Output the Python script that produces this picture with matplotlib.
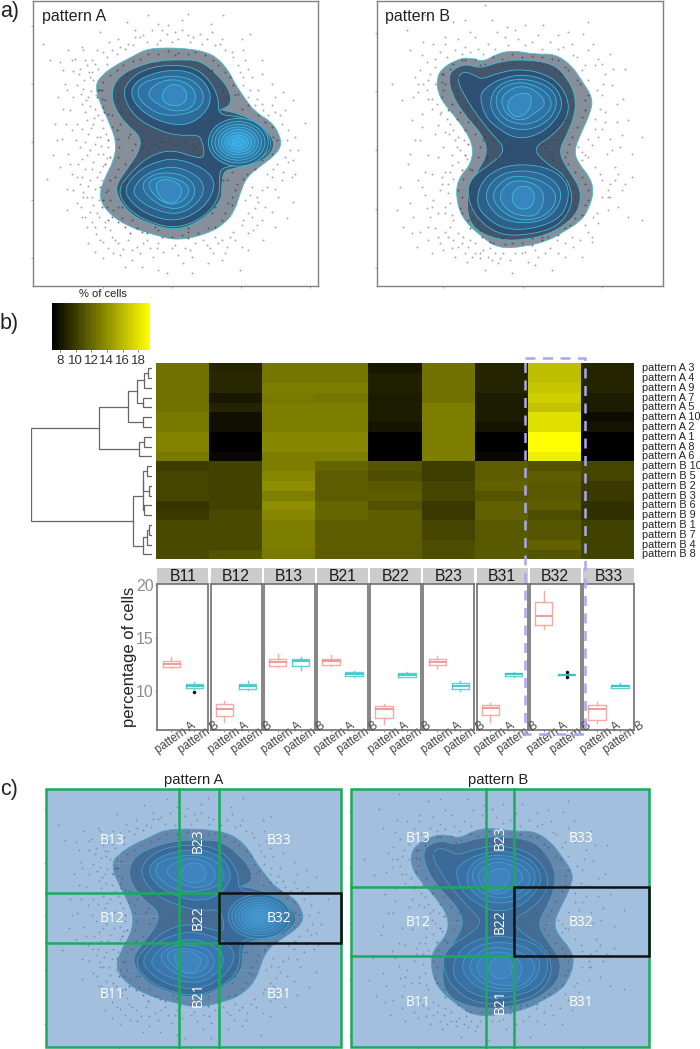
import matplotlib
matplotlib.use('Agg')
import matplotlib.pyplot as plt
import numpy as np
from matplotlib.colors import LinearSegmentedColormap, Normalize
from matplotlib.cm import ScalarMappable
from matplotlib.patches import PathPatch, Ellipse, Rectangle
from matplotlib.path import Path
from matplotlib.transforms import ScaledTranslation

plt.rcParams['font.family'] = ['Liberation Sans', 'DejaVu Sans']

W, H = 700, 1049

# ---- density outlines, outer level first ----
a_outlines = [
    [(60,135),(80,105),(120,75),(170,50),(215,25),(280,22),(340,25),(395,35),(430,55),(460,90),(480,130),(510,175),(540,215),(590,245),(612,280),(620,315),(600,345),(560,375),(515,410),(495,460),(480,510),(450,550),(400,580),(310,602),(240,585),(160,560),(100,520),(70,470),(90,410),(115,365),(125,310),(105,250),(75,190)],
    [(110,150),(130,110),(180,80),(250,60),(320,58),(375,60),(425,100),(465,150),(470,195),(425,212),(460,210),(540,240),(585,280),(600,315),(580,350),(530,375),(470,385),(445,395),(440,440),(440,480),(390,535),(310,572),(230,555),(160,520),(116,450),(145,400),(190,340),(200,290),(150,250),(115,195)],
    [(142,165),(160,120),(210,85),(290,72),(360,82),(405,120),(432,175),(428,225),(500,228),(570,265),(592,310),(575,345),(520,372),(445,380),(432,400),(435,470),(390,530),(310,565),(230,550),(160,510),(125,450),(170,395),(220,348),(290,327),(362,353),(390,352),(382,300),(368,283),(310,287),(250,270),(180,232)],
]
a_upper = [
    [(165,165),(180,125),(230,100),(290,88),(350,95),(395,130),(410,175),(390,220),(340,255),(270,250),(200,215)],
    [(185,165),(195,130),(250,112),(300,105),(360,120),(390,165),(375,205),(320,225),(260,225),(215,200)],
    [(212,160),(250,125),(300,115),(350,135),(365,170),(350,205),(300,215),(250,195)],
    [(258,165),(275,138),(305,130),(330,145),(338,170),(325,192),(295,198),(268,188)],
]
a_lower = [
    [(145,445),(195,385),(260,360),(300,355),(370,375),(415,410),(418,450),(385,505),(310,545),(230,530),(170,490)],
    [(170,450),(210,400),(290,375),(360,400),(392,440),(370,490),(310,525),(240,510),(190,480)],
    [(195,440),(225,405),(280,395),(340,410),(365,450),(345,490),(300,510),(240,490)],
    [(215,430),(245,410),(290,410),(335,430),(345,455),(320,487),(280,495),(240,470)],
    [(240,430),(265,415),(305,425),(325,450),(305,488),(275,490),(250,465)],
]
a_peak_x, a_peak_y = 490, 306
a_peak_rx = [90, 80, 70, 60, 50, 40, 30, 18]
a_peak_ry = [72, 62, 54, 46, 38, 30, 22, 14]

b_outlines = [
    [(35,115),(50,85),(90,60),(130,50),(175,65),(215,40),(265,30),(330,42),(390,40),(440,75),(470,120),(505,175),(495,220),(470,275),(447,330),(460,370),(495,410),(507,455),(490,510),(465,545),(415,575),(375,600),(300,620),(220,625),(170,590),(120,545),(95,490),(95,420),(140,370),(145,310),(100,240),(60,195),(38,155)],
    [(70,110),(85,85),(125,70),(165,85),(235,60),(310,58),(385,70),(425,110),(452,165),(450,225),(425,285),(400,335),(430,390),(465,440),(467,490),(445,535),(380,580),(300,600),(220,600),(150,570),(125,520),(130,440),(160,390),(190,335),(170,280),(115,220),(80,160)],
    [(95,115),(115,92),(150,105),(170,118),(225,95),(300,85),(385,110),(430,170),(430,230),(385,285),(320,325),(370,375),(415,400),(440,450),(440,500),(400,560),(310,585),(220,585),(150,530),(125,460),(140,410),(200,370),(245,328),(200,280),(160,230),(120,170)],
]
b_upper = [
    [(163,165),(185,140),(225,115),(300,100),(380,125),(415,180),(400,230),(350,280),(280,298),(225,270),(180,230)],
    [(193,180),(220,130),(290,112),(370,135),(400,180),(380,235),(320,270),(250,265),(205,225)],
    [(210,175),(230,140),(290,122),(360,148),(385,190),(360,230),(310,255),(250,245),(220,215)],
    [(225,180),(250,148),(295,135),(340,155),(365,190),(335,215),(290,245),(245,225)],
    [(245,190),(265,165),(310,155),(322,180),(310,215),(280,233),(255,220)],
]
b_lower = [
    [(155,490),(165,430),(215,385),(290,370),(380,385),(430,430),(430,490),(400,540),(310,570),(230,565),(175,525)],
    [(175,465),(215,405),(290,388),(370,405),(412,450),(400,505),(350,545),(270,550),(210,525)],
    [(195,470),(235,415),(290,405),(360,425),(400,465),(375,520),(310,545),(240,525)],
    [(218,470),(250,425),(300,420),(345,440),(360,475),(340,525),(300,530),(250,515)],
    [(258,470),(275,440),(310,437),(330,460),(325,495),(300,510),(270,500)],
]

# ---- single cells ----
a_points = [(220,-75),(340,-78),(443,-77),(155,-55),(407,-48),(75,-25),(102,5),(230,-30),(275,-20),(355,-10),(320,-30),(65,30),(-75,58),(-45,65),(-5,92),(50,95),(5,135),(40,170),(-15,210),(5,250),(75,290),(-20,340),(-10,400),(-85,415),(25,470),(-25,510),(20,530),(60,560),(85,655),(135,645),(205,610),(275,700),(325,670),(415,640),(495,690),(465,590),(535,570),(635,535),(655,485),(610,470),(545,470),(575,440),(645,330),(660,290),(690,248),(655,178),(625,155),(545,175),(520,85),(525,-20),(505,30),(435,10),(395,-5),
(30,60),(15,85),(45,110),(25,145),(60,205),(30,215),(55,250),(80,240),(40,280),(60,310),(85,340),(55,365),(30,385),(75,395),(45,420),(15,430),(60,445),(35,470),(55,495),(30,530),(72,530),(50,545),(90,560),(110,590),(75,600),(130,610),(160,600),(185,620),(225,625),(250,610),(290,625),(310,645),(360,610),(345,630),(395,615),(440,600),(420,590),(475,575),(500,555),(520,520),(540,505),(510,480),(560,450),(530,440),(590,410),(625,395),(605,370),(640,365),(650,410),(580,350),(635,300),(620,250),(600,215),(580,225),(560,190),(525,150),(505,110),(490,75),(475,50),(450,30),(420,15),(380,10),(345,5),(310,-5),(290,5),(255,0),(215,5),(195,-10),(175,15),(150,25),(125,40),(95,50),(60,70),(-30,130),(-50,170),(-60,250),(-40,295),(-65,345),(0,55),(25,30),(15,320),(35,345),(10,370),(-5,450),(5,490),(40,610),(100,625),(170,660),(235,650),(375,580),(600,330),(670,330),(570,280),(590,515),(560,540),(500,620),(440,660),(-95,10),(560,60),(500,-5),(130,-5),(180,-30),(280,-45),(-20,30),(-35,90),(-5,170),
(12,102),(28,118),(41,95),(55,120),(18,160),(33,178),(48,152),(62,165),(22,192),(44,198),(70,225),(35,240),(58,232),(84,262),(20,265),(48,262),(66,290),(92,280),(30,305),(78,318),(100,320),(44,330),(68,342),(95,352),(22,355),(50,385),(85,378),(65,410),(38,438),(80,420),(25,455),(52,470),(72,480),(18,500),(45,515),(65,520),(90,545),(35,560),(62,582),(105,570),(85,605),(120,600),(145,628),(115,640),(170,630),(195,640),(215,600),(245,625),(265,635),(300,615),(330,625),(350,650),(385,600),(405,625),(430,610),(455,620),(480,600),(520,580),(545,555),(505,540),(530,530),(570,500),(550,485),(525,465),(600,445),(620,420),(575,400),(595,385),(630,350),(655,360),(640,270),(615,225),(590,195),(565,210),(540,195),(520,170),(550,150),(505,135),(495,95),(530,110),(470,35),(510,60),(440,-5),(410,-25),(375,-20),(340,-15),(300,-25),(260,-30),(245,10),(205,-15),(160,10),(135,20),(110,28),(85,35),(50,60),(35,75),(70,85),(95,70),(-25,150),(-35,205),(-10,270),(-28,250),(2,300),(-15,370),(5,410),(20,410),(-25,445),(-45,380),(-55,300),(60,635),(150,680),(200,680),(250,690),(350,700),(400,670),(450,640),(520,630),(565,600),(600,560),(660,400),(630,210),(590,130),(560,100),(600,170),(320,-60),(250,-50),(180,-10),(20,20),(-10,60)]
a_inner_points = [(70,150),(85,200),(100,300),(105,350),(90,370),(75,440),(85,480),(110,530),(130,545),(165,580),(200,575),(290,590),(340,595),(400,565),(440,540),(470,495),(480,450),(505,415),(560,360),(595,290),(570,245),(500,205),(490,160),(465,110),(430,75),(390,45),(340,40),(280,32),(220,40),(175,62),(125,90),(85,125),(80,175),(110,225),(125,270),(160,290),(170,330),(150,370),(120,410),(100,450),(95,500),(200,300),(240,310),(280,305),(330,305),(360,320),(410,240),(440,210),(445,150),(400,90),(420,420),(455,420),(410,520),(340,575),(250,570),(140,500),(140,215),(130,160),(155,100),(230,72),(300,45),
(65,170),(80,150),(90,180),(100,220),(88,215),(110,260),(128,295),(132,320),(128,350),(130,385),(105,420),(92,455),(82,500),(105,480),(115,510),(100,540),(140,535),(150,560),(185,565),(215,580),(260,592),(320,585),(370,580),(420,560),(450,520),(460,490),(470,470),(485,430),(515,400),(540,385),(590,340),(605,300),(590,260),(550,225),(520,195),(480,165),(475,135),(450,95),(415,60),(360,35),(310,38),(250,40),(195,55),(145,75),(105,105),(75,150),
(130,180),(135,250),(165,280),(180,310),(205,320),(260,305),(310,295),(350,310),(370,340),(300,315),(250,320),(215,330),(170,375),(140,430),(130,500),(170,540),(240,562),(340,565),(420,500),(445,420),(470,395),(440,240),(455,170),(410,90)]

b_points = [(0,-75),(180,-105),(120,-60),(-55,-30),(60,-10),(-45,30),(-10,45),(135,-25),(85,-55),(200,-60),(245,-40),(300,-45),(355,-45),(430,-25),(475,-20),(505,10),(555,40),(520,55),(565,85),(540,100),(510,75),(560,135),(530,165),(480,75),(455,50),(415,20),(375,5),(320,5),(280,-5),(240,-10),(190,10),(160,25),(120,20),(90,30),(45,35),(5,65),(-15,90),(-30,110),(-5,130),(-20,155),(10,175),(20,205),(45,220),(75,250),(60,275),(90,300),(105,330),(80,345),(-50,370),(10,345),(40,350),(-20,420),(-45,490),(0,465),(50,410),(75,395),(45,450),(25,480),(60,500),(80,525),(15,530),(-35,530),(-40,580),(10,560),(40,590),(60,575),(85,600),(110,610),(130,620),(150,640),(100,580),(-25,620),(20,640),(55,630),(90,650),(125,665),(165,655),(210,640),(255,660),(290,640),(340,650),(375,625),(420,610),(465,600),(490,575),(520,550),(515,520),(550,510),(580,500),(610,530),(650,540),(590,450),(600,430),(555,430),(530,420),(470,360),(490,350),(470,335),(500,315),(520,290),(555,295),(590,285),(540,245),(510,235),(525,205),(575,190),(595,175),(620,340),(650,290),(580,400),(570,380),(545,340),(260,700),(220,670),(180,690),(310,665),(420,650),(380,690),(470,650),(100,-5),(25,10),(-5,5),(-70,180),(-100,130),(-40,240),(-30,300),(-75,440),(-85,510),(-65,560),(400,-15),(600,85),(490,-55),(-10,220),(30,280),(55,320),(20,400),(70,460),(75,560),(135,600),(190,650),(500,590),(555,470),(575,245),
(15,100),(30,130),(5,150),(22,175),(35,190),(48,215),(65,235),(40,255),(72,280),(85,270),(100,290),(118,300),(95,320),(125,355),(100,365),(80,375),(60,395),(85,415),(70,430),(50,430),(75,490),(60,520),(85,540),(40,520),(20,500),(30,565),(70,590),(100,620),(115,590),(150,610),(140,650),(175,630),(200,660),(235,640),(270,640),(300,635),(330,630),(360,640),(395,600),(440,590),(480,555),(505,530),(530,470),(550,450),(525,400),(510,380),(480,345),(460,320),(490,295),(510,265),(480,245),(530,265),(515,150),(535,130),(490,120),(470,90),(445,45),(400,25),(350,25),(300,15),(250,15),(210,25),(175,40),(135,35),(110,40),(65,50),(30,80),(10,120),(-20,130),(-35,170),(-10,260),(-15,300),(-45,340),(0,395),(-10,440),(5,505),(-15,575),(10,600),(45,610),(80,625),(120,640),(165,640),(195,625),(225,655),(330,675),(400,640),(445,620),(500,605),(550,470),(570,420),(620,410),(560,330),(585,320),(610,240),(540,215),(530,70),(490,30),(440,10),(340,-15),(270,-30),(215,-25),(150,-10),(60,10),(30,55)]
b_inner_points = [(60,130),(50,170),(70,210),(95,235),(120,270),(130,310),(120,345),(110,390),(100,450),(105,505),(130,540),(165,570),(195,605),(260,610),(320,615),(370,590),(420,565),(450,535),(480,495),(490,450),(470,410),(430,370),(425,335),(440,290),(470,230),(480,180),(455,120),(420,80),(380,55),(320,48),(260,42),(205,50),(165,75),(120,60),(85,70),(55,100),(95,150),(125,190),(150,240),(175,300),(185,350),(205,320),(230,340),(290,325),(350,310),(370,340),(385,360),(400,300),(440,200),(445,440),(450,500),(140,470),(140,530),(350,590),(235,75),(310,70),(390,85),(100,110),(135,135),(410,240),(385,270),
(50,125),(55,150),(80,190),(105,215),(130,245),(150,280),(165,320),(160,350),(135,385),(115,415),(112,470),(110,520),(135,565),(170,590),(205,610),(240,612),(290,610),(350,600),(400,585),(435,555),(470,525),(490,480),(480,430),(450,395),(420,350),(432,310),(455,260),(480,210),(490,165),(465,130),(430,90),(400,60),(350,50),(290,50),(230,55),(180,70),(150,55),(110,60),(75,85),(50,100),
(85,130),(100,170),(125,210),(150,250),(180,290),(205,300),(215,350),(250,320),(280,340),(330,330),(360,320),(380,345),(390,300),(420,240),(435,170),(405,100),(350,75),(260,70),(140,390),(145,450),(135,500),(160,550),(230,595),(320,595),(420,520),(450,470),(420,410)]

# ---- heatmap, % of cells, rows top to bottom ----
row_names = ['pattern A 3','pattern A 4','pattern A 9','pattern A 7','pattern A 5','pattern A 10','pattern A 2','pattern A 1','pattern A 8','pattern A 6',
             'pattern B 10','pattern B 5','pattern B 2','pattern B 3','pattern B 6','pattern B 9','pattern B 1','pattern B 7','pattern B 4','pattern B 8']
bins = ['B11','B12','B13','B21','B22','B23','B31','B32','B33']
b11 = [12.5,12.5,12.5,12.5,12.5,12.9,12.9,13.3,13.3,12.9,10.1,10.4,10.4,10.4,9.6,9.9,10.6,10.6,10.6,10.6]
b12 = [8.8,9.0,9.0,8.3,8.9,7.9,7.9,7.0,7.0,7.5,10.2,10.2,10.2,10.2,10.2,10.7,10.7,10.7,10.7,11.2]
b13 = [12.7,12.7,13.1,12.9,13.1,13.1,13.1,13.6,13.6,13.2,13.1,13.5,13.9,13.2,13.9,13.6,13.2,13.2,13.2,12.9]
b21 = [12.7,12.7,13.1,12.7,13.1,13.1,13.1,13.6,13.6,13.2,11.9,11.6,11.6,11.6,12.0,12.0,11.6,11.6,11.6,11.6]
b22 = [8.3,8.6,8.6,8.5,8.5,8.5,8.0,7.0,7.0,7.0,11.25,10.9,11.4,11.6,11.1,11.5,11.5,11.5,11.5,11.5]
b23 = [12.6,12.6,12.6,12.6,13.1,13.1,13.1,13.1,13.1,13.1,10.1,10.1,10.4,10.4,9.75,9.75,10.4,10.4,10.9,10.9]
b31 = [8.9,8.9,8.9,8.5,8.5,8.5,8.0,7.0,7.0,7.5,11.5,11.5,11.75,11.25,11.75,11.75,11.4,11.4,11.4,11.4]
b32 = [16.25,16.25,16.75,17.0,16.5,17.75,17.75,19.5,19.5,18.6,11.1,11.6,11.4,11.4,11.5,10.75,11.25,11.25,11.75,11.25]
b33 = [8.9,8.9,8.9,8.5,8.5,7.75,8.1,7.0,7.0,7.0,10.4,10.4,9.75,9.75,9.5,9.5,10.25,10.25,10.25,10.25]

# dendrogram merges: child, child, height; new clusters are numbered from 20
merges = [(0,1,3.7),(20,2,8),(3,4,8.7),(21,22,15.3),(5,6,8.7),(23,24,24.3),(7,8,7.7),(26,9,13),(25,27,52.7),
          (10,11,5.3),(12,13,3),(29,30,8.7),(14,15,8),(31,32,9.3),(16,17,3),(34,18,5.3),(35,19,9.3),(33,36,18.7),(28,37,120.7)]

# ---- boxplots ----
a_med = [12.52,8.26,12.7,12.78,8.3,12.74,8.36,17.1,8.26]
a_q1 = [12.2,7.63,12.37,12.46,7.38,12.4,7.7,16.18,7.26]
a_q3 = [12.84,8.77,12.97,12.97,8.58,12.97,8.6,18.39,8.68]
a_lo = [12.1,7.0,12.27,12.37,6.88,12.18,7.0,15.84,6.97]
a_hi = [13.2,9.05,13.5,13.37,8.7,13.3,8.86,19.43,8.96]
b_med = [10.4,10.44,12.78,11.58,11.5,10.41,11.58,11.51,10.44]
b_q1 = [10.25,10.2,12.37,11.36,11.32,10.13,11.42,11.48,10.28]
b_q3 = [10.6,10.6,12.97,11.73,11.67,10.7,11.7,11.58,10.54]
b_lo = [10.15,10.1,11.95,11.3,11.3,9.97,11.32,11.42,10.22]
b_hi = [10.8,10.95,13.15,11.9,11.8,10.88,11.73,11.64,10.76]
b_fliers = [[9.9],[],[],[],[],[],[],[11.77,11.26],[]]

# ---- gate positions and labels in panel c, in figure pixels ----
gates_a_x, gates_a_y = [179.3, 218.7], [892.7, 943]
gates_b_x, gates_b_y = [486, 514], [886.7, 956.3]
label_col_a, label_row_a = [112, 198.5, 279], [841, 918, 995]
label_col_b, label_row_b = [418, 500.5, 581], [838, 922, 1002]
gate_names = [['B13','B23','B33'], ['B12','B22','B32'], ['B11','B21','B31']]

a_fills = ['#868f9a', '#43566c', '#2f5072']
lobe_fills = ['#2e5f8a', '#2f6a99', '#3072a5', '#337cb2', '#3786c0']
peak_fills = ['#2f628c', '#306b9a', '#3174a8', '#337fb8', '#358ac6', '#3794d2', '#399edc', '#3ba8e6']
LINE = '#3fc3d8'

fig = plt.figure(figsize=(W/100, H/100), dpi=100)


def px_axes(left, top, right, bottom):
    return fig.add_axes([left/W, 1-bottom/H, (right-left)/W, (bottom-top)/H])


def smooth_path(pts):
    pts = np.array(pts, dtype=float)
    mids = (pts + np.roll(pts, -1, axis=0))/2
    verts = [mids[-1]]
    codes = [Path.MOVETO]
    for i in range(len(pts)):
        verts += [pts[i], mids[i]]
        codes += [Path.CURVE3, Path.CURVE3]
    return Path(verts, codes)


def draw_blob(ax, pts, fill, z):
    ax.add_patch(PathPatch(smooth_path(pts), facecolor=fill, edgecolor=LINE, lw=0.55, zorder=z))


def draw_density(ax, outlines, upper, lower, points, inner, peak=False):
    for i, pts in enumerate(outlines):
        draw_blob(ax, pts, a_fills[i], 2+i)
    for i, pts in enumerate(upper):
        draw_blob(ax, pts, lobe_fills[i+(5-len(upper))], 6+i)
    for i, pts in enumerate(lower):
        draw_blob(ax, pts, lobe_fills[i], 6+i)
    if peak:
        for i in range(len(a_peak_rx)):
            ax.add_patch(Ellipse((a_peak_x, a_peak_y), 2*a_peak_rx[i], 2*a_peak_ry[i], facecolor=peak_fills[i],
                                 edgecolor=LINE, lw=0.55, zorder=6+i))
    pts = np.array(points)
    ax.scatter(pts[:, 0], pts[:, 1], s=2.0, color='#85858c', alpha=0.7, linewidths=0, zorder=1)
    pts = np.array(inner)
    ax.scatter(pts[:, 0], pts[:, 1], s=2.0, color='#3a3f48', alpha=0.7, linewidths=0, zorder=5)


# a) density panels
ax_a = px_axes(33, 0.5, 318, 286)
ax_b = px_axes(377.3, 0.5, 663.3, 286)
draw_density(ax_a, a_outlines, a_upper, a_lower, a_points, a_inner_points, peak=True)
draw_density(ax_b, b_outlines, b_upper, b_lower, b_points, b_inner_points)
ax_a.set_xlim(-126, 729)
ax_a.set_ylim(738, -120)
ax_b.set_xlim(-143, 715)
ax_b.set_ylim(738, -120)
a_xticks, a_yticks = [83, 290, 497, 705], [-42, 132, 306, 480, 654]
b_xticks, b_yticks = [55, 293, 532], [-23, 153, 330, 507, 683]
for ax, xt, yt in [(ax_a, a_xticks, a_yticks), (ax_b, b_xticks, b_yticks)]:
    ax.set_xticks(xt)
    ax.set_yticks(yt)
    ax.tick_params(length=1.5, color='#999999', labelbottom=False, labelleft=False, width=0.6)
    for s in ax.spines.values():
        s.set_color('#808080')
        s.set_linewidth(1.0)

# b) colour scale
cmap = LinearSegmentedColormap.from_list('blackyellow', ['#000000', '#ffff00'], N=40)
norm = Normalize(7, 19.5)
cax = px_axes(52, 303, 150, 350)
cb = fig.colorbar(ScalarMappable(norm=norm, cmap=cmap), cax=cax, orientation='horizontal', ticks=[8, 10, 12, 14, 16, 18])
cb.outline.set_visible(False)
cax.tick_params(labelsize=9.5, length=1.5, width=0.5, pad=2, colors='#333333')

# b) heatmap
heat_ax = px_axes(156, 363.3, 634, 559.3)
heat = np.array([b11, b12, b13, b21, b22, b23, b31, b32, b33]).T
heat_ax.pcolormesh(heat, cmap=LinearSegmentedColormap.from_list('by', ['#000000', '#ffff00'], N=64), norm=norm)
heat_ax.set_ylim(len(row_names), 0)
heat_ax.set_xticks([])
heat_ax.set_yticks([])
row_trans = heat_ax.get_yaxis_transform()
for i, name in enumerate(row_names):
    heat_ax.text(1.016, i+0.5, name, transform=row_trans, fontsize=7.8, color='#222222', va='center', clip_on=False)
for s in heat_ax.spines.values():
    s.set_visible(False)

# b) dendrogram
den = px_axes(31, 363.3, 152, 559.3)
pos = {i: (i+0.5, 0.0) for i in range(len(row_names))}
for n, (c1, c2, h) in enumerate(merges):
    y1, h1 = pos[c1]
    y2, h2 = pos[c2]
    den.plot([h1, h, h, h2], [y1, y1, y2, y2], color='#666666', lw=0.9, solid_joinstyle='miter')
    pos[20+n] = ((y1+y2)/2, h)
den.set_xlim(120.7, 0)
den.set_ylim(len(row_names), 0)
den.axis('off')

# b) boxplots
for i, name in enumerate(bins):
    left = 157.3+i*53.2
    ax = px_axes(left, 584, left+51, 730)
    ax.set_zorder(10-i)  # the long tick labels run over into the next panel
    stats = [dict(med=a_med[i], q1=a_q1[i], q3=a_q3[i], whislo=a_lo[i], whishi=a_hi[i], fliers=[]),
             dict(med=b_med[i], q1=b_q1[i], q3=b_q3[i], whislo=b_lo[i], whishi=b_hi[i], fliers=b_fliers[i])]
    for st, pos_x, col, mcol in zip(stats, [1, 2], ['#f6aaa4', '#5fd0d4'], ['#ee8a83', '#2cbfc4']):
        ax.bxp([st], positions=[pos_x], widths=0.75, showcaps=False,
               boxprops=dict(color=col, lw=1.0), whiskerprops=dict(color=col, lw=1.0),
               medianprops=dict(color=mcol, lw=1.2),
               flierprops=dict(marker='o', markersize=1.5, markerfacecolor='#111111', markeredgecolor='#111111'))
    ax.set_xlim(0.4, 2.6)
    ax.set_ylim(6.27, 20.1)
    ax.set_xticks([1, 2])
    ax.set_xticklabels(['pattern A', 'pattern B'], rotation=35, ha='center', fontsize=8.3, color='#444444')
    ax.set_yticks([10, 15, 20])
    ax.tick_params(axis='x', length=1.5, color='#999999', pad=-9)
    for lab in ax.get_xticklabels():
        lab.set_transform(lab.get_transform()+ScaledTranslation(4/100, 0, fig.dpi_scale_trans))
    if i == 0:
        ax.tick_params(axis='y', length=1.5, color='#999999', labelsize=11.5, labelcolor='#8c8c8c', pad=1)
        ax.set_ylabel('percentage of cells', fontsize=12, color='#222222', labelpad=-1)
    else:
        ax.tick_params(axis='y', left=False, labelleft=False)
    for s in ax.spines.values():
        s.set_color('#707070')
        s.set_linewidth(1.2)
    strip = px_axes(left, 568, left+51, 584)
    strip.set_facecolor('#cccccc')
    strip.set_xticks([])
    strip.set_yticks([])
    for s in strip.spines.values():
        s.set_visible(False)
    strip.text(0.5, 0.48, name, ha='center', va='center', fontsize=11.3, color='#1a1a1a', transform=strip.transAxes)

# c) gated density panels
ax_ca = px_axes(46, 789, 341, 1047)
ax_cb = px_axes(350.7, 789, 649.3, 1047)
draw_density(ax_ca, a_outlines, a_upper, a_lower, a_points, a_inner_points, peak=True)
draw_density(ax_cb, b_outlines, b_upper, b_lower, b_points, b_inner_points)
ax_ca.set_xlim(-131, 728)
ax_ca.set_ylim(729, -107)
ax_cb.set_xlim(-138, 723)
ax_cb.set_ylim(722, -92)
for ax, xt, yt in [(ax_ca, a_xticks, a_yticks), (ax_cb, b_xticks, b_yticks)]:
    ax.set_xticks(xt)
    ax.set_yticks(yt)
    ax.tick_params(length=1.5, color='#999999', labelbottom=False, labelleft=False, width=0.6)
    ax.add_patch(Rectangle((0, 0), 1, 1, transform=ax.transAxes, facecolor='#4783bf', alpha=0.5, edgecolor='none', zorder=20))
    ax.grid(True, color='white', alpha=0.2, lw=0.6, zorder=21)
    ax.set_axisbelow(False)
    for s in ax.spines.values():
        s.set_visible(False)

# overlay in figure pixels for the gates, captions and the dashed box
pix = fig.add_axes([0, 0, 1, 1])
pix.set_zorder(30)
pix.set_xlim(0, W)
pix.set_ylim(H, 0)
pix.axis('off')
pix.patch.set_alpha(0)

pix.text(0, 12, 'a)', fontsize=15.5, color='#222222', va='center')
pix.text(0, 323, 'b)', fontsize=15.5, color='#222222', va='center')
pix.text(0, 790, 'c)', fontsize=15.5, color='#222222', va='center')
pix.text(42, 16, 'pattern A', fontsize=11.5, color='#222222', va='center')
pix.text(385, 16, 'pattern B', fontsize=11.5, color='#222222', va='center')
pix.text(103, 294, '% of cells', fontsize=8, color='#222222', ha='center', va='center')
pix.text(194, 780, 'pattern A', fontsize=10.6, color='#222222', ha='center', va='center')
pix.text(498, 780, 'pattern B', fontsize=10.6, color='#222222', ha='center', va='center')

pix.add_patch(Rectangle((525, 358), 60, 375.5, fill=False, edgecolor='#a8a8f0', lw=1.8, linestyle=(0, (4, 3))))

GREEN = '#1aab5a'
for l, r, gx, gy, cols, rows in [(46, 341, gates_a_x, gates_a_y, label_col_a, label_row_a),
                                 (350.7, 649.3, gates_b_x, gates_b_y, label_col_b, label_row_b)]:
    pix.add_patch(Rectangle((l, 789), r-l, 258, fill=False, edgecolor=GREEN, lw=1.8))
    for x in gx:
        pix.plot([x, x], [789, 1047], color=GREEN, lw=1.8)
    for y in gy:
        pix.plot([l, gx[1]], [y, y], color=GREEN, lw=1.8)
    pix.add_patch(Rectangle((gx[1], gy[0]), r-gx[1], gy[1]-gy[0], fill=False, edgecolor='#111111', lw=1.8, zorder=5))
    for i, row in enumerate(rows):
        for j, col in enumerate(cols):
            pix.text(col, row, gate_names[i][j], color='white', fontsize=10, family='Open Sans', ha='center', va='center',
                     rotation=90 if j == 1 else 0, zorder=6)

pix.set_xlim(0, W)
pix.set_ylim(H, 0)
fig.savefig('out.png', dpi=100)
